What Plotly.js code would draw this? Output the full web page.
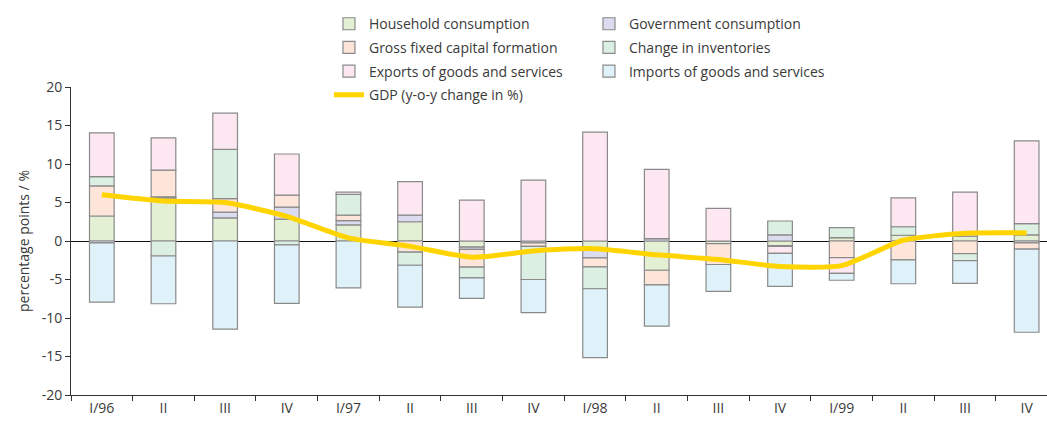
<!DOCTYPE html>
<html>
<head>
<meta charset="utf-8">
<script src="https://cdn.plot.ly/plotly-3.0.1.min.js"></script>
<style>html,body{margin:0;padding:0;background:#fff;}#chart{width:1047px;height:423px;}</style>
</head>
<body>
<div id="chart"></div>
<script>
var quarters = ['I/96','II','III','IV','I/97','II','III','IV','I/98','II','III','IV','I/99','II','III','IV'];
var householdConsumption = [3.25, 5.6, 3.0, 2.85, 2.1, 2.5, -0.8, 0, -1.2, -3.8, -0.35, -0.6, 0.45, 0.75, 0.65, 0.8];
var governmentConsumption = [-0.25, 0.15, 0.75, 1.55, 0.55, 0.85, -0.3, -0.25, -1.0, 0.3, 0, 0.8, 0, 0, 0, -0.25];
var grossFixedCapital = [3.9, 3.45, 1.75, 1.55, 0.7, -1.45, -2.3, -0.45, -1.15, -1.9, -2.7, -0.1, -2.15, -2.45, -1.65, -0.8];
var changeInventories = [1.2, -1.95, 6.4, -0.5, 2.7, -1.7, -1.4, -4.3, -2.85, 0, 0, 1.8, 1.3, 1.1, -0.9, 1.45];
var exportsGS = [5.7, 4.2, 4.7, 5.35, 0.3, 4.35, 5.3, 7.9, 14.15, 9.0, 4.25, -0.9, -2.05, 3.75, 5.7, 10.75];
var importsGS = [-7.7, -6.2, -11.45, -7.6, -6.1, -5.45, -2.65, -4.3, -8.95, -5.35, -3.5, -4.3, -0.9, -3.1, -2.95, -10.8];
var gdp = [6.0, 5.2, 5.0, 3.2, 0.4, -0.7, -2.1, -1.3, -1.0, -1.8, -2.4, -3.3, -3.2, 0.1, 1.0, 1.05];
var yTickValues = [-20, -15, -10, -5, 0, 5, 10, 15, 20];
var yTickLabels = ['-20', '-15', '-10', '-5', '0', '5', '10', '15', '20'];

var xpos = quarters.map(function(_, i){ return i; });
var txt = '#3a3a3a';
var fontFam = 'Open Sans, Noto Sans, sans-serif';

function barTrace(name, vals, color, leg){
  return {type:'bar', name:name, x:xpos, y:vals, width:0.4, legend:leg, legendgroup:name,
    marker:{color:color, line:{color:'#8a8a8a', width:1.2}}, hoverinfo:'name+y'};
}
var traces = [
  barTrace('Household consumption', householdConsumption, '#e4f0d4', 'legend'),
  barTrace('Government consumption', governmentConsumption, '#dcdcf0', 'legend2'),
  barTrace('Gross fixed capital formation', grossFixedCapital, '#fde5da', 'legend'),
  barTrace('Change in inventories', changeInventories, '#dcefe3', 'legend2'),
  barTrace('Exports of goods and services', exportsGS, '#fde8f1', 'legend'),
  barTrace('Imports of goods and services', importsGS, '#dff2f9', 'legend2'),
  {type:'scatter', mode:'lines', name:'GDP (y-o-y change in %)', x:xpos, y:gdp, legend:'legend', legendgroup:'gdp',
   line:{color:'#ffd400', width:5, shape:'spline', smoothing:0.6}}
];

function legendSpec(x){
  return {orientation:'v', x:x, xanchor:'left', y:1.256, yanchor:'top',
    font:{family:fontFam, size:14, color:txt}, itemwidth:30, tracegroupgap:2.5,
    traceorder:'grouped', bgcolor:'rgba(0,0,0,0)', borderwidth:0};
}

var layout = {
  width:1047, height:423,
  margin:{l:71, r:0, t:87, b:28},
  paper_bgcolor:'#fff', plot_bgcolor:'#fff',
  barmode:'relative', bargap:0,
  font:{family:fontFam, size:14, color:txt},
  showlegend:true,
  legend:legendSpec(0.2643),
  legend2:legendSpec(0.5307),
  xaxis:{range:[-0.5, 15.33], tickmode:'array', tickvals:xpos, ticktext:quarters,
    ticks:'', showgrid:false, zeroline:false, showline:true, linecolor:'#333', linewidth:1,
    tickfont:{size:14, color:txt},
    minor:{tickmode:'linear', tick0:0.5, dtick:1, ticks:'outside', ticklen:5, tickcolor:'#333', tickwidth:1, showgrid:false}},
  yaxis:{range:[-20, 20], tickmode:'array', tickvals:yTickValues, ticktext:yTickLabels, ticks:'outside', ticklen:5,
    tickcolor:'#333', showgrid:false, showline:true, linecolor:'#333', linewidth:1,
    zeroline:true, zerolinecolor:'#111', zerolinewidth:1,
    tickfont:{size:14, color:txt},
    title:{text:'percentage points / %', font:{size:14, color:txt}, standoff:8}}
};

Plotly.newPlot('chart', traces, layout, {displayModeBar:false, staticPlot:true});
</script>
</body>
</html>
